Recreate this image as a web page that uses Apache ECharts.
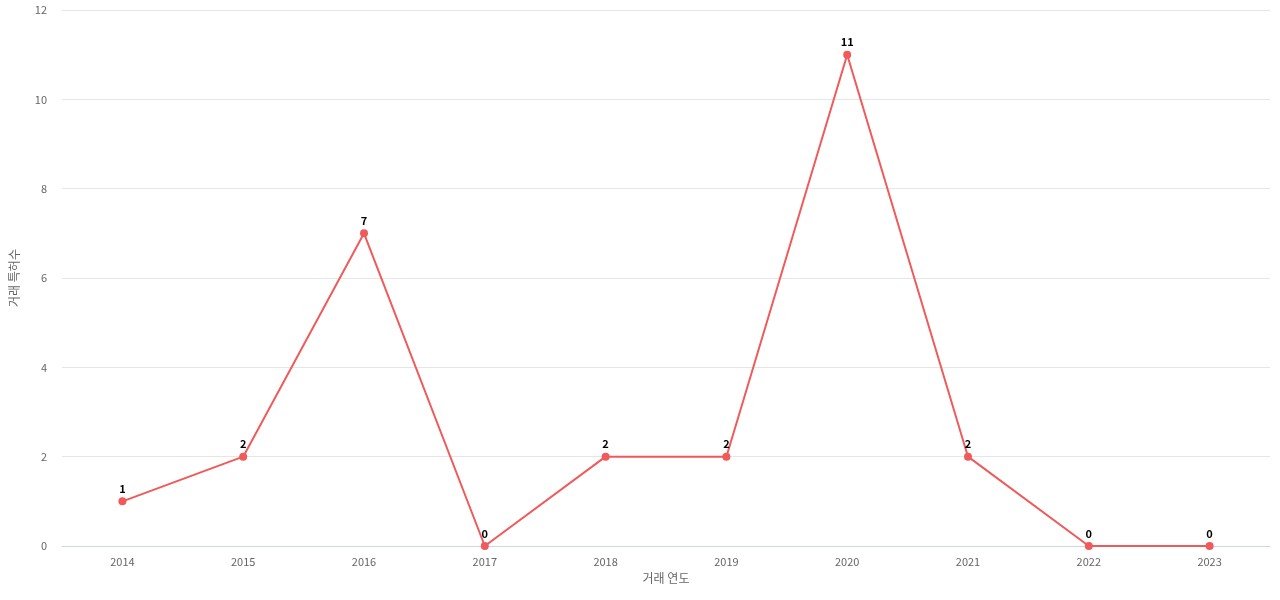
<!DOCTYPE html>
<html>
<head>
<meta charset="UTF-8">
<script src="https://cdn.jsdelivr.net/npm/echarts@6/dist/echarts.min.js"></script>
<style>html,body{margin:0;padding:0;background:#fff}#main{width:1280px;height:600px}</style>
</head>
<body>
<div id="main"></div>
<script>
var years = ['2014', '2015', '2016', '2017', '2018', '2019', '2020', '2021', '2022', '2023'];
var counts = [1, 2, 7, 0, 2, 2, 11, 2, 0, 0];

var myChart = echarts.init(document.getElementById('main'));
myChart.setOption({
    animation: false,
    textStyle: {fontFamily: 'Noto Sans CJK KR, sans-serif'},
    grid: {left: 61, right: 10, top: 10, bottom: 54},
    xAxis: {
        type: 'category',
        data: years,
        name: '거래 연도',
        nameLocation: 'middle',
        nameGap: 26,
        nameTextStyle: {color: '#666', fontSize: 12},
        axisTick: {show: false},
        axisLine: {lineStyle: {color: '#ccd6eb'}},
        axisLabel: {color: '#666', fontSize: 11, margin: 10}
    },
    yAxis: {
        type: 'value',
        min: 0, max: 12, interval: 2,
        name: '거래 특허수',
        nameLocation: 'middle',
        nameGap: 42,
        nameTextStyle: {color: '#666', fontSize: 12},
        axisLabel: {color: '#666', fontSize: 11, margin: 15},
        splitLine: {lineStyle: {color: '#e6e6e6'}}
    },
    series: [{
        type: 'line',
        data: counts,
        color: '#f05a5a',
        symbol: 'circle',
        symbolSize: 8,
        lineStyle: {width: 2},
        label: {show: true, position: 'top', distance: 3, color: '#000', fontWeight: 'bold', fontSize: 11}
    }]
});
</script>
</body>
</html>
